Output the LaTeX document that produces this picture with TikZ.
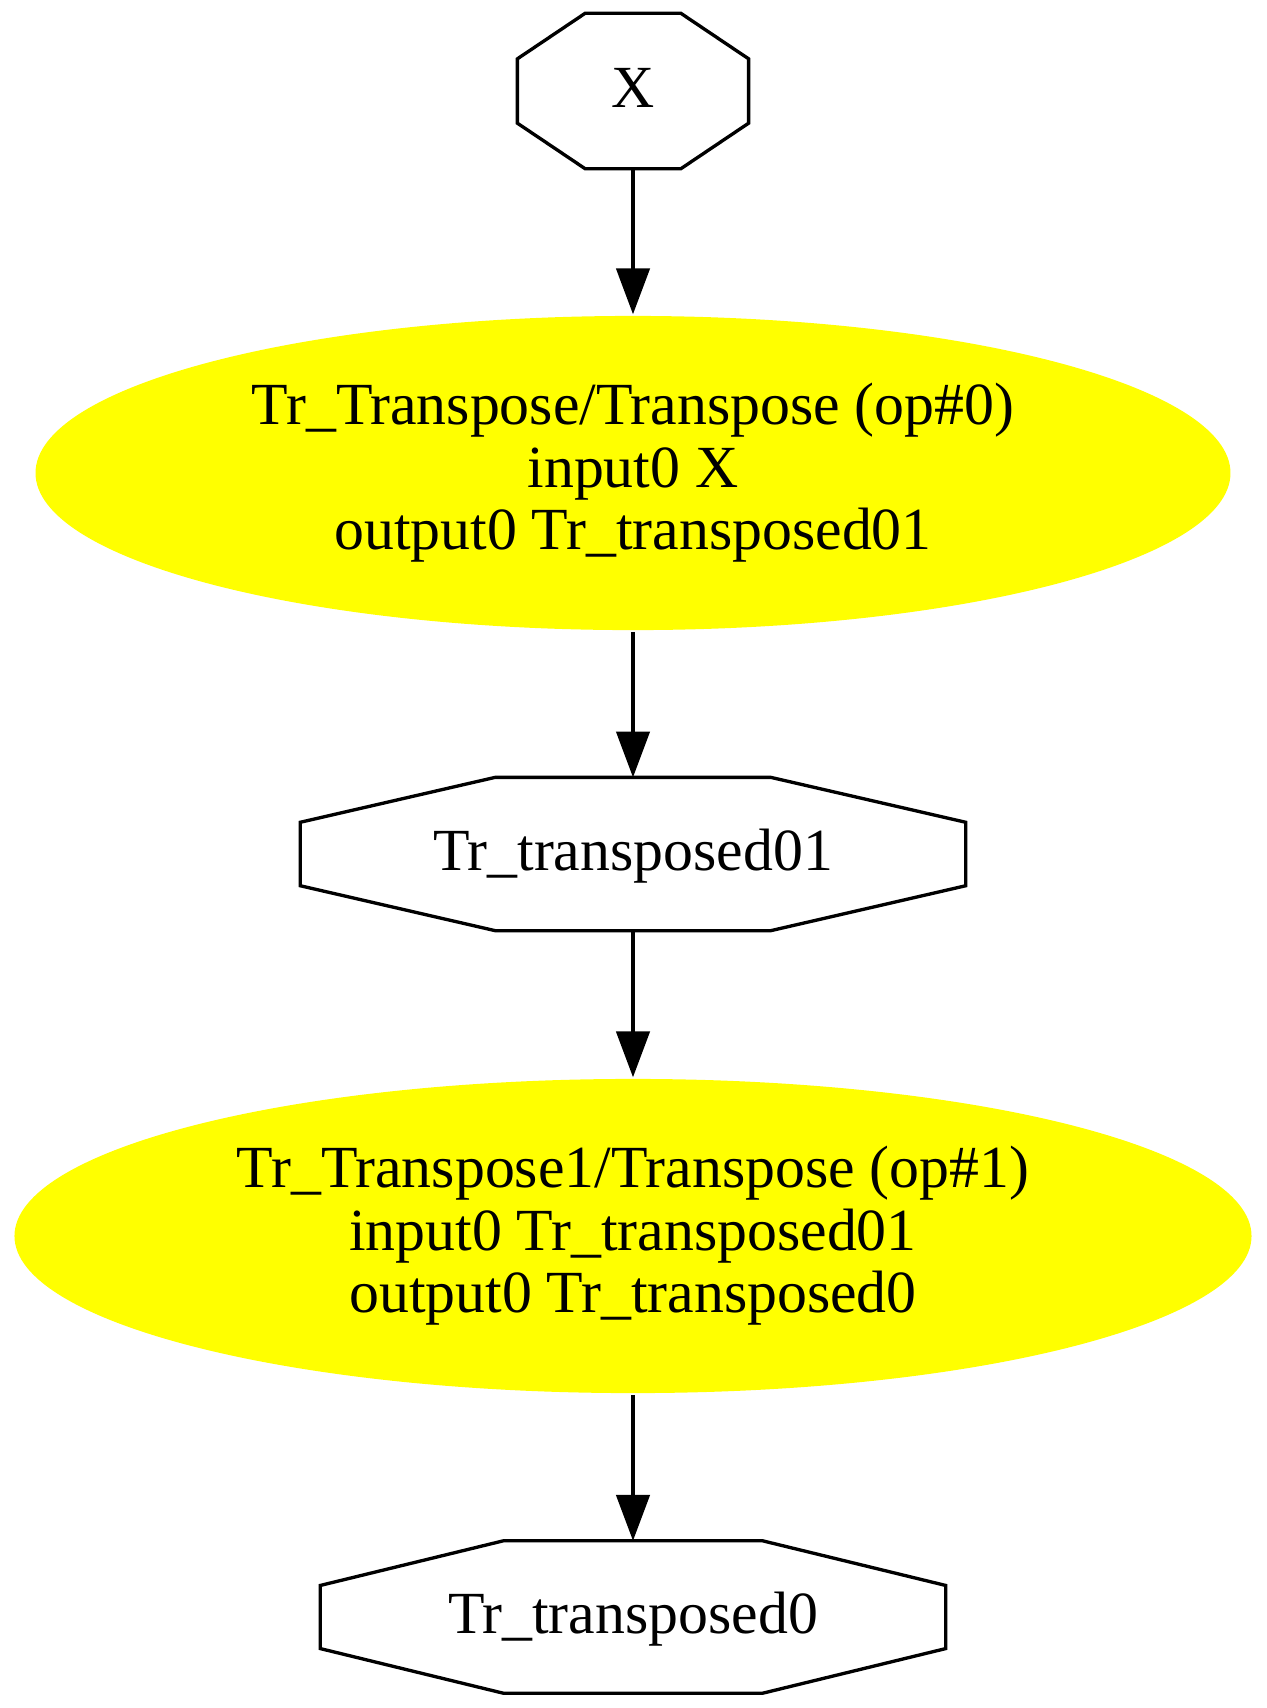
\documentclass[tikz,border=0pt]{standalone}
\usepackage{fontspec}
\setmainfont{Liberation Serif}
\usetikzlibrary{shapes.geometric,arrows.meta,calc}
\definecolor{opyellow}{RGB}{255,255,0}

\begin{document}
\begin{tikzpicture}[x=0.24pt,y=-0.24pt,line width=0.8pt,
    >={Triangle[length=11pt,width=8pt]},
    every node/.style={font=\fontsize{14.35}{15}\selectfont,align=center},
    tensor/.style={inner sep=0pt,text height=10pt,text depth=2.3pt},
    op/.style={ellipse,fill=opyellow,inner sep=0pt,minimum height=75.4pt}]
    \useasboundingbox (0,0) rectangle (1267,1708);

    \node[tensor,minimum width=54.7pt,minimum height=36.5pt] (X) at (633,91) {X};
    \node[op,minimum width=286.8pt] (op0) at (633,473)
        {Tr\_Transpose/Transpose (op\#0)\\input0 X\\output0 Tr\_transposed01};
    \node[tensor,minimum width=158.9pt,minimum height=36pt] (tr01) at (633,854) {Tr\_transposed01};
    \node[op,minimum width=296.9pt] (op1) at (633,1236)
        {Tr\_Transpose1/Transpose (op\#1)\\input0 Tr\_transposed01\\output0 Tr\_transposed0};
    \node[tensor,minimum width=149.3pt,minimum height=35.8pt] (tr0) at (633,1617) {Tr\_transposed0};

    % octagon outlines
    \foreach \n in {X,tr01,tr0}
      \draw ($(\n.north)!.414!(\n.north west)$) -- ($(\n.north)!.414!(\n.north east)$)
        -- ($(\n.east)!.414!(\n.north east)$) -- ($(\n.east)!.414!(\n.south east)$)
        -- ($(\n.south)!.414!(\n.south east)$) -- ($(\n.south)!.414!(\n.south west)$)
        -- ($(\n.west)!.414!(\n.south west)$) -- ($(\n.west)!.414!(\n.north west)$) -- cycle;

    \draw[->] (X) -- (op0);
    \draw[->] (op0) -- (tr01);
    \draw[->] (tr01) -- (op1);
    \draw[->] (op1) -- (tr0);
\end{tikzpicture}
\end{document}
